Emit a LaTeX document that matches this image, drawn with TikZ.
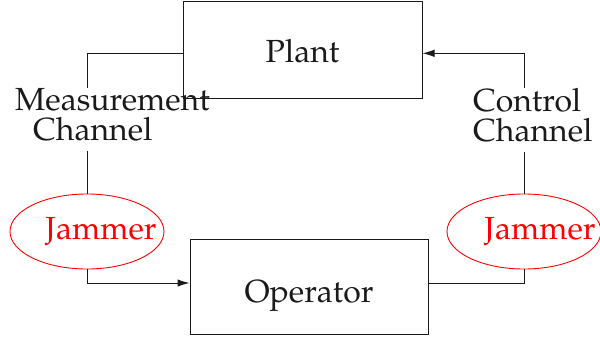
\documentclass[tikz,border=0pt]{standalone}
\usepackage[T1]{fontenc}
\usepackage{mathpazo}
\usetikzlibrary{arrows.meta,shapes.geometric}
\definecolor{ink}{HTML}{1A1A1A}
\begin{document}
\begin{tikzpicture}[x=1pt,y=-1pt,
  big/.style={font=\fontsize{32}{30}\selectfont},
  blk/.style={big, draw=ink, line width=1pt, rectangle, text=ink},
  jam/.style={draw=red, line width=0.9pt, ellipse, minimum width=154pt, minimum height=75pt, inner sep=0pt},
  jamtext/.style={big, text=red, anchor=base, inner sep=0pt},
  lab/.style={big, text=ink, align=left, inner sep=0pt, anchor=north west},
  wire/.style={draw=ink, line width=1pt},
  tip/.style={-{Latex[length=12pt,width=7.5pt]}}]
\useasboundingbox (0,0) rectangle (600,343);

% blocks
\node[blk, minimum width=239pt, minimum height=97pt, text height=25pt, text depth=0pt] (plant) at (302.5,49.5) {Plant};
\node[blk, minimum width=238pt, minimum height=95pt, text height=31pt, text depth=0pt] (op) at (309,286.5) {Operator};

% jammers
\node[jam] (jamL) at (87,231.5) {};
\node[jam] (jamR) at (524,231.5) {};
\node[jamtext] (jamLt) at ([shift={(14,7.5)}]jamL.center) {Jammer};
\node[jamtext] (jamRt) at ([shift={(16,7.5)}]jamR.center) {Jammer};

% channel labels
\node[lab] (mlab) at (15,88) {Measurement\\\hspace*{18pt}Channel};
\node[lab] (clab) at (473,88) {Control\\Channel};

% break points of the channel wires around the labels
\coordinate (mTop) at (jamL.north |- mlab.north);
\coordinate (mBot) at ([yshift=-10pt]jamL.north |- mlab.south);
\coordinate (cTop) at (jamR.north |- clab.north);
\coordinate (cBot) at ([yshift=-10pt]jamR.north |- clab.south);

% measurement channel: plant -> jammer -> operator
\draw[wire] ([yshift=-3.8pt]plant.west) -| (mTop);
\draw[wire] (mBot) -- (jamL.north);
\draw[wire, tip] (jamL.south) |- ([yshift=3.5pt]op.west);

% control channel: operator -> jammer -> plant
\draw[wire] ([yshift=3.5pt]op.east) -| (jamR.south);
\draw[wire] (jamR.north) -- (cBot);
\draw[wire, tip] (cTop) |- ([yshift=-3.8pt]plant.east);
\end{tikzpicture}
\end{document}
